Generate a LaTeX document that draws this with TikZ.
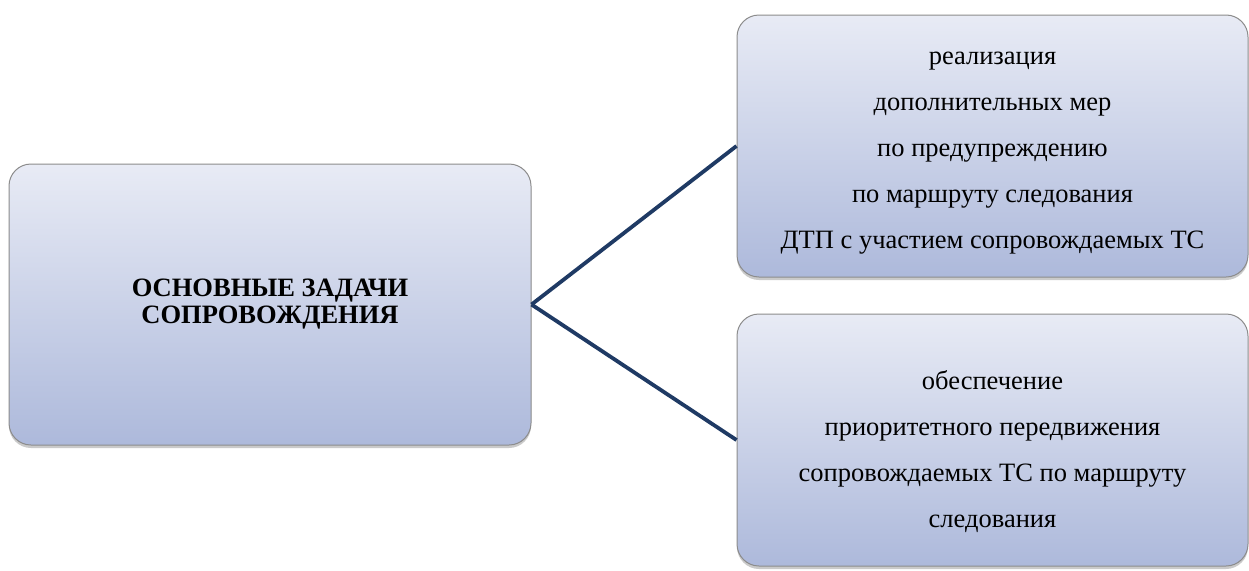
\documentclass[tikz,border=0pt]{standalone}
\usepackage{fontspec}
\setmainfont{Liberation Serif}
\usetikzlibrary{shadows}
\definecolor{boxtop}{HTML}{E8EBF5}
\definecolor{boxbot}{HTML}{ADB9DB}
\definecolor{boxline}{HTML}{8C8C8C}
\definecolor{conn}{HTML}{1F3A64}
\tikzset{
  box/.style={draw=boxline, line width=1pt, rounded corners=22pt,
    top color=boxtop, bottom color=boxbot, inner sep=0pt,
    drop shadow={shadow xshift=0pt, shadow yshift=-3pt, opacity=0.35, fill=black!60}},
  txt/.style={align=center, font=\fontsize{26.5}{46}\selectfont, inner sep=0pt},
  ttl/.style={align=center, font=\fontsize{26.5}{27}\selectfont\bfseries, inner sep=0pt},
  conline/.style={draw=conn, line width=3.8pt}
}
\begin{document}
\begin{tikzpicture}[x=1pt,y=-1pt]
\useasboundingbox (0,0) rectangle (1249,570);
\node[box, minimum width=522pt, minimum height=281pt] (main) at (270,304.5) {};
\node[ttl] (maint) at (270,304) {ОСНОВНЫЕ ЗАДАЧИ\\СОПРОВОЖДЕНИЯ};
\node[box, minimum width=511pt, minimum height=262pt] (tr) at (992.5,146) {};
\node[txt] (trt) at (992.5,153) {реализация\\дополнительных мер\\по предупреждению\\по маршруту следования\\ДТП с участием сопровождаемых ТС};
\node[box, minimum width=511pt, minimum height=252pt] (br) at (992.5,440) {};
\node[txt] (brt) at (992.5,452) {обеспечение\\приоритетного передвижения\\сопровождаемых ТС по маршруту\\следования};
\draw[conline] (main.east) -- (tr.west);
\draw[conline] (main.east) -- (br.west);
\end{tikzpicture}
\end{document}
